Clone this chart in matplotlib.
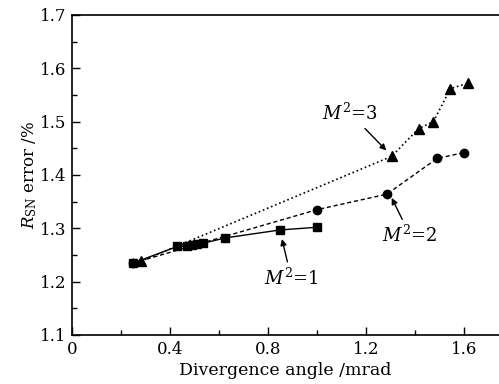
import matplotlib
matplotlib.use("Agg")
import matplotlib.pyplot as plt
from matplotlib.ticker import MultipleLocator

plt.rcParams['font.family'] = 'DejaVu Serif'
plt.rcParams['mathtext.fontset'] = 'dejavuserif'

# M^2 = 1 (squares, solid)
x_m1 = [0.25, 0.43, 0.47, 0.49, 0.51, 0.535, 0.625, 0.85, 1.0]
y_m1 = [1.235, 1.266, 1.267, 1.269, 1.270, 1.272, 1.282, 1.297, 1.302]
# M^2 = 2 (circles, dashed)
x_m2 = [0.25, 1.0, 1.285, 1.49, 1.60]
y_m2 = [1.235, 1.335, 1.364, 1.431, 1.442]
# M^2 = 3 (triangles, dotted)
x_m3 = [0.28, 1.305, 1.415, 1.475, 1.545, 1.615]
y_m3 = [1.238, 1.435, 1.487, 1.500, 1.562, 1.572]

x_ticks = [0, 0.4, 0.8, 1.2, 1.6]
y_ticks = [1.1, 1.2, 1.3, 1.4, 1.5, 1.6, 1.7]

fig = plt.figure(figsize=(4.99, 3.84), dpi=100)
ax = fig.add_axes([72/499, 1-335/384, 1-72/499, 320/384])

ax.plot(x_m1, y_m1, '-', color='black', lw=1.0, marker='s', ms=5.5)
ax.plot(x_m2, y_m2, '--', color='black', lw=1.0, marker='o', ms=6, dashes=(3, 2))
ax.plot(x_m3, y_m3, ':', color='black', lw=1.2, marker='^', ms=6.5)

ax.set_xlim(0, 1.743)
ax.set_ylim(1.1, 1.7)
ax.spines['right'].set_visible(False)
for s in ['left', 'bottom', 'top']:
    ax.spines[s].set_linewidth(1.2)

ax.set_xticks(x_ticks)
ax.set_xticklabels(['0', '0.4', '0.8', '1.2', '1.6'])
ax.xaxis.set_minor_locator(MultipleLocator(0.2))
ax.set_yticks(y_ticks)
ax.yaxis.set_minor_locator(MultipleLocator(0.05))
ax.tick_params(which='both', direction='in', top=False, right=False, labelsize=12)
ax.tick_params(which='major', length=6, width=1)
ax.tick_params(which='minor', length=3.5, width=1)
ax.tick_params(axis='x', pad=4)
ax.tick_params(axis='y', pad=4)

ax.set_xlabel('Divergence angle /mrad', fontsize=12.5, labelpad=3)
ax.set_ylabel(r'$R_{\mathrm{SN}}$ error /%', fontsize=12, labelpad=1)

arrow = dict(arrowstyle='-|>', color='black', lw=1.0, mutation_scale=9,
             shrinkA=2, shrinkB=0)
ax.annotate(r'$M^2$=3', xy=(1.283, 1.446), xytext=(1.135, 1.516), fontsize=13,
            ha='center', va='center', arrowprops=arrow)
ax.annotate(r'$M^2$=2', xy=(1.305, 1.357), xytext=(1.38, 1.287), fontsize=13,
            ha='center', va='center', arrowprops=arrow)
ax.annotate(r'$M^2$=1', xy=(0.857, 1.280), xytext=(0.895, 1.207), fontsize=13,
            ha='center', va='center', arrowprops=arrow)

fig.savefig('out.png', dpi=100)
